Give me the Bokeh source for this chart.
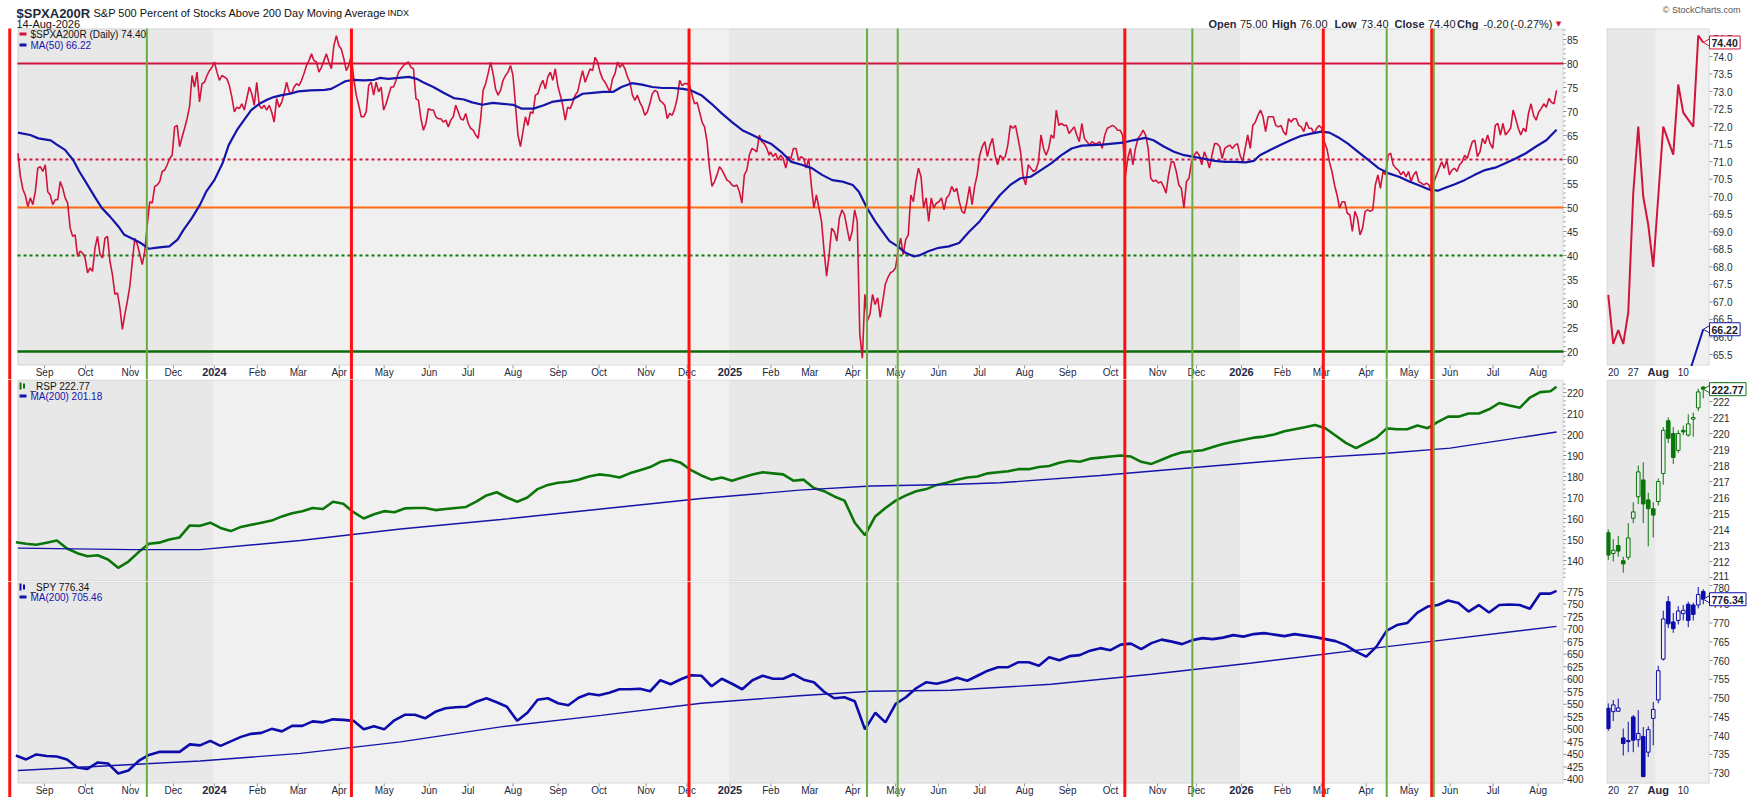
import numpy as np
import pandas as pd
from bokeh.plotting import figure
from bokeh.models import BoxAnnotation, Range1d
from bokeh.layouts import column, row
from bokeh.embed import file_html
from bokeh.resources import INLINE
from bokeh.core.properties import value

# ------------------------------------------------------------------ data
HOLIDAYS = ["2023-09-04", "2023-11-23", "2023-12-25",
            "2024-01-01", "2024-01-15", "2024-02-19", "2024-03-29", "2024-05-27",
            "2024-06-19", "2024-07-04", "2024-09-02", "2024-11-28", "2024-12-25",
            "2025-01-01", "2025-01-09", "2025-01-20", "2025-02-17", "2025-04-18",
            "2025-05-26", "2025-06-19", "2025-07-04", "2025-09-01", "2025-11-27",
            "2025-12-25", "2026-01-01", "2026-01-19", "2026-02-16", "2026-04-03",
            "2026-05-25", "2026-06-19", "2026-07-03"]

MONTH_LABELS = ["Sep", "Oct", "Nov", "Dec", "2024", "Feb", "Mar", "Apr", "May", "Jun", "Jul", "Aug",
                "Sep", "Oct", "Nov", "Dec", "2025", "Feb", "Mar", "Apr", "May", "Jun", "Jul", "Aug",
                "Sep", "Oct", "Nov", "Dec", "2026", "Feb", "Mar", "Apr", "May", "Jun", "Jul", "Aug"]
MONTH_STARTS = pd.date_range("2023-09-01", periods=len(MONTH_LABELS), freq="MS")
INSET_TICK_DATES = ["2026-07-20", "2026-07-27", "2026-08-03", "2026-08-10"]
INSET_TICK_LABELS = ["20", "27", "Aug", "10"]

RED_LINES = ["2023-08-09", "2024-04-09", "2024-12-03", "2025-10-10", "2026-03-03", "2026-05-18"]
GREEN_LINES = ["2023-11-13", "2025-04-10", "2025-05-02", "2025-11-26", "2026-04-16", "2026-05-19"]

HLINE_LEVELS = [80, 60, 50, 40, 20]

SPXA_TICKS = list(range(20, 90, 5))
SPXA_INSET_TICKS = [65.5 + 0.5 * i for i in range(19)]
RSP_TICKS = list(range(140, 230, 10))
RSP_INSET_TICKS = list(range(211, 224))
SPY_TICKS = list(range(400, 800, 25))
SPY_INSET_TICKS = list(range(730, 785, 5))

# $SPXA200R readings, evenly spaced across two trading-day spans
spxa_span_a = (0.98, 368.2)
spxa_a = [61.3, 56.5, 53.8, 52.5, 50.2, 52.0, 50.6, 53.3, 58.2, 58.5, 57.5, 58.9, 53.3, 52.6, 50.6, 51.6,
          51.6, 55.4, 54.0, 52.0, 50.9, 45.7, 44.0, 44.3, 39.8, 40.9, 40.5, 39.5, 36.4, 37.4, 36.7, 41.6,
          44.0, 40.2, 39.5, 43.6, 44.0, 38.8, 36.0, 31.9, 32.2, 29.1, 24.6, 27.8, 30.5, 33.6, 38.8, 43.6,
          42.3, 40.2, 38.1, 40.9, 46.4, 51.2, 50.9, 54.4, 54.7, 55.4, 57.5, 57.8, 58.9, 60.2, 60.9, 66.8,
          67.1, 62.7, 64.7, 66.5, 68.5, 71.0, 77.5, 75.1, 78.2, 72.0, 75.8, 76.1, 77.5, 78.5, 79.2, 80.3,
          78.2, 76.5, 77.5, 77.2, 76.8, 75.4, 73.0, 69.9, 70.9, 70.6, 71.6, 70.3, 72.7, 75.1, 73.7, 71.3,
          76.1, 71.3, 70.6, 71.3, 70.3, 71.3, 69.9, 67.8, 72.7, 70.9, 71.9, 73.7, 76.1, 74.1, 73.7, 75.1,
          75.8, 75.4, 76.5, 77.9, 79.6, 80.6, 82.0, 80.6, 80.3, 78.2, 79.2, 80.6, 82.0, 80.3, 78.9, 83.7,
          85.8, 83.7, 83.0, 81.0, 78.5, 79.6, 81.7, 76.8, 73.4, 71.3, 68.9, 68.9, 69.9, 75.4, 76.1, 73.4,
          76.1, 74.1, 75.1, 70.3, 71.6, 73.4, 75.1, 75.1, 76.5, 78.2, 78.9, 79.6, 80.0, 80.3, 79.2, 78.9,
          72.7, 72.3, 68.5, 66.1, 67.5, 70.6, 70.3, 70.3, 68.9, 68.5, 68.5, 67.8, 68.2, 66.8, 68.2, 68.9,
          71.3, 69.9, 68.5, 68.2, 69.6, 67.5, 66.5, 66.1, 65.1, 64.4, 68.5, 74.4, 75.8, 77.9, 80.3, 77.9,
          74.7, 73.4, 74.4, 76.5, 77.5, 78.2, 79.6, 77.5, 71.3, 65.1, 62.7, 65.8, 68.9, 67.1, 69.9, 69.6,
          73.4, 73.7, 75.4, 76.5, 74.7, 77.2, 78.2, 76.5, 78.9, 75.4, 73.4, 71.3, 68.2, 70.9, 70.6, 71.9,
          73.4, 74.1, 76.5, 78.5, 76.1, 77.5, 78.9, 78.5, 81.3, 80.3, 78.2, 76.8, 76.1, 75.1, 74.1, 76.8,
          77.9, 80.3, 79.2, 79.9, 78.9, 77.2, 76.1, 73.4, 72.3, 73.4, 71.9, 70.9, 69.2, 69.9, 71.6, 73.7,
          74.4, 74.1, 72.3, 71.9, 71.3, 68.5, 69.6, 69.2, 70.6, 72.7, 76.5, 75.4, 75.8, 75.8, 75.4, 73.4,
          71.6, 71.9, 69.9, 67.8, 66.8, 63.7, 58.2, 54.4, 55.4, 56.8, 58.5, 57.8, 56.8, 55.7, 55.4, 54.7,
          54.4, 54.7, 53.3, 50.9, 56.8, 57.8, 60.9, 62.3, 62.0, 61.6, 65.1, 63.7, 63.3, 62.3, 60.9]
spxa_span_b = (368.8, 753.0)
spxa_b = [61.6, 60.6, 61.3, 59.9, 60.9, 60.2, 58.2, 60.6, 60.2, 62.3, 62.3, 59.9, 60.6, 60.2, 58.2, 60.2,
          54.7, 49.9, 52.6, 49.9, 47.1, 41.0, 35.7, 40.2, 45.7, 45.0, 43.0, 47.8, 49.5, 48.5, 45.7, 43.0,
          45.0, 49.5, 47.1, 23.6, 18.6, 31.9, 26.4, 27.8, 31.9, 29.8, 31.2, 27.1, 30.5, 34.0, 35.4, 36.4,
          36.7, 37.4, 40.9, 43.6, 40.2, 43.3, 44.3, 52.6, 51.2, 55.4, 58.2, 56.4, 49.9, 52.0, 47.1, 52.0,
          49.9, 50.9, 51.2, 52.0, 49.5, 52.0, 52.6, 54.4, 53.3, 54.0, 51.2, 49.2, 48.8, 51.2, 54.4, 50.6,
          54.4, 56.8, 60.9, 62.7, 63.7, 60.6, 63.0, 64.4, 60.9, 58.9, 60.9, 60.2, 60.6, 63.0, 67.1, 66.5,
          67.1, 64.4, 61.6, 56.4, 54.7, 58.9, 58.2, 57.5, 57.8, 59.5, 65.1, 62.3, 60.9, 62.3, 65.1, 64.4,
          70.3, 67.1, 67.5, 67.1, 67.1, 65.4, 66.1, 66.8, 65.1, 63.7, 67.5, 64.4, 63.7, 63.0, 63.7, 63.3,
          63.3, 63.7, 62.3, 65.1, 66.5, 66.8, 67.1, 66.8, 66.1, 66.1, 65.1, 56.4, 60.2, 62.3, 58.9, 62.3,
          64.4, 65.1, 66.1, 65.1, 62.3, 56.1, 55.4, 55.7, 55.1, 55.4, 54.4, 53.0, 56.8, 59.5, 59.5, 57.5,
          54.7, 54.0, 49.9, 55.4, 56.1, 59.5, 60.9, 61.6, 60.9, 58.9, 61.6, 60.2, 58.2, 60.9, 63.3, 63.3,
          62.7, 60.2, 62.3, 62.7, 63.0, 62.3, 63.0, 63.3, 60.9, 59.5, 62.3, 65.1, 62.3, 67.1, 67.8, 69.2,
          70.3, 68.9, 65.8, 68.9, 68.9, 68.9, 67.1, 66.8, 67.1, 65.8, 65.1, 68.5, 67.8, 68.5, 68.5, 67.1,
          66.8, 65.8, 67.8, 66.5, 66.5, 65.4, 66.5, 67.1, 66.5, 63.7, 62.3, 59.5, 57.5, 54.7, 52.6, 49.9,
          51.2, 51.2, 48.8, 48.5, 45.0, 49.2, 47.8, 44.3, 45.7, 49.2, 49.5, 49.2, 49.5, 54.7, 56.8, 54.0,
          57.5, 56.8, 60.9, 61.3, 58.9, 58.2, 57.8, 56.8, 57.5, 56.4, 57.5, 55.4, 56.8, 57.5, 55.4, 55.1,
          54.7, 55.1, 54.7, 53.0, 55.4, 56.8, 58.2, 59.5, 58.2, 59.9, 56.8, 57.8, 58.2, 57.5, 58.9, 59.5,
          60.9, 60.2, 62.0, 63.7, 64.0, 60.6, 61.6, 64.4, 63.3, 65.1, 63.3, 62.3, 67.1, 67.5, 65.1, 67.5,
          65.1, 65.8, 66.5, 70.3, 68.5, 66.5, 65.1, 66.5, 65.8, 69.6, 71.6, 69.2, 68.2, 69.9, 70.6, 71.6,
          70.9, 72.7, 71.9, 71.6, 74.4]

ma50_day = [1, 7, 11, 17, 20, 24, 28, 31, 35, 39, 42, 46, 50, 53, 57, 61, 64, 65, 70, 75,
            79, 82, 86, 90, 93, 97, 101, 104, 108, 112, 115, 119, 123, 126, 130, 134, 138, 144, 151, 154,
            158, 161, 165, 170, 175, 178, 182, 187, 192, 196, 199, 204, 209, 214, 219, 223, 228, 233, 238, 243,
            247, 253, 258, 262, 267, 272, 277, 282, 287, 292, 296, 301, 306, 311, 316, 321, 326, 330, 335, 340,
            345, 350, 355, 360, 365, 369, 374, 379, 384, 389, 394, 399, 404, 409, 412, 416, 420, 424, 427, 431,
            435, 439, 442, 446, 451, 456, 461, 466, 471, 476, 481, 486, 491, 496, 501, 506, 511, 516, 521, 526,
            531, 536, 541, 546, 552, 556, 561, 566, 571, 575, 580, 586, 591, 596, 601, 605, 608, 613, 618, 623,
            628, 633, 638, 642, 646, 651, 656, 661, 666, 671, 676, 681, 686, 691, 695, 698, 703, 708, 713, 718,
            723, 728, 733, 738, 743, 748, 753]
ma50_val = [65.6, 65.1, 64.4, 64.0, 63.1, 62.0, 59.9, 57.5, 54.7, 51.9, 49.9, 48.1, 46.1, 44.3, 43.5, 42.6, 41.7, 41.4, 41.7, 41.9,
            43.3, 45.4, 47.8, 50.6, 53.3, 55.7, 59.2, 63.0, 66.1, 68.5, 70.3, 71.6, 72.5, 73.0, 73.4, 73.7, 74.2, 74.4, 74.5, 74.7,
            75.6, 76.3, 76.6, 76.5, 76.6, 77.0, 76.8, 77.0, 77.2, 76.8, 76.1, 75.1, 73.9, 72.8, 72.5, 71.9, 71.4, 71.8, 71.6, 71.4,
            70.6, 70.6, 71.3, 72.0, 72.3, 72.5, 73.7, 73.9, 74.1, 74.1, 75.1, 75.9, 75.6, 75.1, 74.9, 74.9, 74.7, 74.4, 73.4, 71.6,
            69.6, 67.8, 66.1, 65.1, 64.0, 63.3, 61.6, 59.5, 58.9, 58.2, 56.8, 55.7, 55.4, 54.7, 53.3, 49.9, 47.1, 44.7, 43.0, 41.9,
            40.5, 39.8, 40.1, 40.9, 41.6, 41.9, 42.6, 45.0, 47.1, 49.9, 52.6, 54.7, 56.1, 56.4, 57.8, 59.2, 60.9, 62.3, 62.9, 63.0,
            63.1, 63.3, 63.5, 64.0, 64.5, 64.0, 62.7, 61.6, 60.9, 60.6, 60.2, 59.7, 59.5, 59.5, 59.4, 59.7, 60.9, 62.0, 63.0, 64.0,
            64.9, 65.4, 65.8, 65.6, 64.7, 63.3, 61.6, 59.9, 58.2, 57.1, 56.4, 55.4, 54.6, 53.7, 53.5, 54.0, 54.8, 55.7, 56.8, 57.8,
            58.3, 59.2, 60.2, 61.3, 62.7, 64.0, 66.22]

# last 20 sessions (Jul 20 - Aug 14, 2026)
spxa_inset = [67.2, 65.8, 66.2, 65.8, 66.7, 70.1, 72.0, 70.0, 69.2, 68.0,
              70.0, 72.0, 71.6, 71.2, 73.2, 72.4, 72.2, 72.0, 74.6, 74.4]

# _RSP weekly closes (every 5 sessions from 2023-08-14) and last close
rsp_week = [148.7, 148, 147.5, 148.5, 149.5, 145.7, 143.5, 142, 142.5, 140.5,
            136.5, 139.5, 144, 148, 148.5, 150, 151, 156.7, 156.5, 158,
            155.5, 154, 156, 157, 158, 159, 161, 162.5, 163.5, 165,
            164.5, 168, 167, 163, 160, 162, 163.5, 163, 164.8, 165,
            165, 164, 164.5, 165, 165.5, 168, 171, 172.5, 170, 168,
            170, 174, 176, 177, 177.5, 178.5, 180, 181, 180.5, 179.5,
            181.5, 183, 184.5, 187, 188, 186.5, 183, 180.5, 178.5, 179.5,
            178, 179.5, 181, 182, 181.5, 181, 178, 178.5, 174.5, 173,
            170.5, 168.5, 158, 152, 161, 165, 168.5, 171, 173, 174,
            176, 177, 178.5, 179.5, 180, 181.5, 182, 182.5, 183.5, 183.5,
            184.5, 185, 186.5, 187.5, 187, 188.5, 189, 189.5, 190, 189.5,
            187, 186, 188, 190, 191.5, 192, 192.5, 194, 195.5, 196.5,
            197.5, 198.5, 199, 200, 201.5, 202.5, 203.5, 204.5, 203, 199.5,
            196, 193.5, 196, 198.5, 202.9, 202.5, 202.5, 204.3, 203, 206,
            208.5, 208.5, 210, 210, 212, 215, 213.8, 212.7, 217.6, 220.2, 220.6]
rsp_last = 222.77
rsp_ma_day = [1, 57, 90, 139, 188, 237, 286, 335, 383, 418, 457, 481, 530, 579, 628, 667, 701, 753]
rsp_ma_val = [145.9, 145.2, 145.2, 149.5, 155, 159.5, 164.5, 169.5, 173.5, 175.5, 176.2, 177,
              180.5, 184.5, 188.5, 190.8, 193.5, 201.18]
rsp_o = [213.8, 212.5, 213.0, 212.05, 212.26, 214.7, 216.05, 217.1, 215.85, 215.3,
         215.75, 217.5, 220.8, 220.0, 218.95, 220.2, 219.9, 220.9, 221.6, 222.9]
rsp_h = [214.0, 213.4, 213.6, 212.3, 214.4, 215.7, 218.0, 218.2, 216.3, 215.7,
         217.2, 220.4, 221.0, 220.4, 220.2, 220.5, 221.2, 221.3, 222.8, 222.95]
rsp_l = [212.1, 212.0, 212.3, 211.3, 212.1, 214.4, 215.6, 214.4, 212.95, 213.5,
         215.5, 216.8, 219.4, 218.1, 218.8, 219.9, 219.8, 219.8, 221.4, 222.2]
rsp_c = [212.4, 212.7, 212.65, 211.85, 213.47, 215.1, 217.6, 215.6, 215.3, 214.9,
         217.0, 220.2, 219.7, 218.5, 220.0, 220.1, 220.6, 221.0, 222.6, 222.77]

# _SPY weekly closes and last close
spy_week = [448, 440, 450, 447, 446, 440, 424, 421, 434, 432,
            412, 418, 437, 449, 455, 455, 455, 470, 468, 477,
            467, 476, 485, 491, 493, 501, 496, 507, 507, 516,
            514, 520, 519, 517, 500, 506, 500, 518, 529, 529,
            522, 535, 542, 544, 545, 555, 562, 554, 545, 517,
            533, 559, 562, 552, 548, 563, 571, 568, 573, 580,
            580, 581, 576, 598, 590, 600, 608, 607, 586, 601,
            591, 580, 598, 607, 601, 601, 610, 599, 594, 575,
            562, 564, 556, 500, 533, 514, 551, 564, 582, 594,
            591, 596, 603, 597, 607, 617, 624, 624, 634, 634,
            627, 644, 638, 646, 648, 657, 662, 658, 669, 671,
            660, 672, 679, 675, 670, 678, 682, 680, 683, 688,
            685, 690, 692, 689, 686, 690, 687, 684, 680, 676,
            668, 655, 645, 665, 697, 708, 712, 733, 745, 748,
            757, 752, 735, 748, 733, 748, 749, 748.2, 740.6, 771.1, 770.7]
spy_last = 776.34
spy_ma_day = [1, 57, 90, 139, 188, 237, 286, 335, 383, 418, 457, 506, 555, 603, 667, 691, 753]
spy_ma_val = [418, 430, 437, 452, 475, 505, 528, 552, 567, 576, 578, 590, 610, 632, 663.6, 675, 705.46]
spy_o = [747.3, 746.4, 746.5, 739.4, 738.7, 745.0, 738.9, 739.8, 735.6, 744.6,
         749.5, 760.4, 775.7, 770.3, 770.7, 772.5, 775.0, 774.8, 774.8, 778.4]
spy_h = [748.6, 749.5, 749.9, 741.9, 743.7, 745.5, 746.8, 742.3, 742.5, 749.0,
         758.6, 773.3, 777.2, 772.7, 774.5, 774.8, 775.7, 775.4, 779.6, 779.0]
spy_l = [741.3, 743.9, 746.4, 734.7, 735.6, 735.6, 737.0, 728.9, 734.3, 737.4,
         748.6, 760.0, 768.7, 767.4, 769.6, 770.7, 768.9, 770.7, 773.9, 775.0]
spy_c = [741.9, 748.2, 747.4, 737.9, 738.4, 738.8, 740.6, 729.1, 741.6, 747.0,
         757.3, 771.1, 769.8, 768.5, 773.2, 773.4, 770.7, 772.3, 777.6, 776.34]

# ------------------------------------------------------------------ calendar
cal = pd.bdate_range("2023-08-01", "2026-08-31")
cal = cal[~cal.isin(pd.to_datetime(HOLIDAYS))]
ORIGIN = int(cal.searchsorted(pd.Timestamp("2023-08-14")))


def tday(d):
    return int(cal.searchsorted(pd.Timestamp(d))) - ORIGIN


LAST = tday("2026-08-14")

# ------------------------------------------------------------------ style / geometry
FONT = "Liberation Sans"
DARK = "#e8e8e8"
LIGHT = "#f0f0f0"
BORDER = "#9ea4aa"
TICKC = "#8a8f94"
RED = "#ff1010"
GREEN_V = "#6aab45"
CRIMSON = "#d2143c"
NAVY = "#1414a8"
RSP_GREEN = "#0a760a"
SPY_BLUE = "#0c0caa"
TXT = "#1e2840"
AXT = "#2b2b2b"


class Geo:
    """page-pixel geometry of one figure; xf / yf map page pixels to data."""

    def __init__(self, left, top, w, h, xf, xinv, yf, yinv):
        self.left, self.top, self.w, self.h = left, top, w, h
        self.xf, self.xinv, self.yf, self.yinv = xf, xinv, yf, yinv


def xlin(a0, px_per_day, d0):
    return (lambda a: d0 + (a - a0) / px_per_day,
            lambda d: a0 + (d - d0) * px_per_day)


def lin(v_ref, y_ref, px_per_unit):
    return (lambda y: v_ref - (y - y_ref) / px_per_unit,
            lambda v: y_ref + (v_ref - v) * px_per_unit)


XM = xlin(15.4, 2.046, 0.0)
XI = xlin(1606, 5.0, LAST - 19.35)
gM = Geo(0, 0, 1606, 379, *XM, *lin(85, 39, 4.8))
gMI = Geo(1606, 0, 144, 379, *XI, *lin(74, 56, 35.06))
gR = Geo(0, 379, 1606, 202, *XM, *lin(220, 392, 2.1))
gRI = Geo(1606, 379, 144, 202, *XI, *lin(222, 401, 16.0))
gS = Geo(0, 581, 1606, 216, *XM, *lin(775, 591, 0.5013))
gSI = Geo(1606, 581, 144, 216, *XI, *lin(780, 585, 3.754))

MAIN_L, MAIN_R = 17, 1563
INS_L, INS_R = 1606, 1709


def new_fig(g):
    p = figure(width=g.w, height=g.h,
               x_range=Range1d(g.xf(g.left), g.xf(g.left + g.w)),
               y_range=Range1d(g.yf(g.top + g.h), g.yf(g.top)),
               output_backend="svg", toolbar_location=None, tools="",
               x_axis_location=None, y_axis_location=None, min_border=0,
               min_border_left=0, min_border_right=0, min_border_top=0, min_border_bottom=0,
               background_fill_color="white", border_fill_color="white",
               outline_line_color=None)
    p.grid.visible = False
    return p


def panel(p, g, xl, xr, yt, yb, shades):
    lo, hi = g.xf(xl), g.xf(xr)
    for a, b, col in shades:
        p.add_layout(BoxAnnotation(left=max(a, lo), right=min(b, hi), bottom=g.yf(yb),
                                   top=g.yf(yt), fill_color=col, fill_alpha=1,
                                   line_alpha=0, level="underlay"))
    p.add_layout(BoxAnnotation(left=g.xf(xl + 0.5), right=g.xf(xr - 0.5), bottom=g.yf(yb - 0.5),
                               top=g.yf(yt + 0.5), fill_alpha=0, line_color=BORDER,
                               line_width=1, level="underlay"))


def right_axis(p, g, x_edge, ticks, labels, minor=None):
    n = len(ticks)
    p.segment(x0=[g.xf(x_edge)] * n, x1=[g.xf(x_edge + 3)] * n, y0=ticks, y1=ticks,
              line_color=TICKC, line_width=1)
    if minor:
        m = len(minor)
        p.segment(x0=[g.xf(x_edge)] * m, x1=[g.xf(x_edge + 2)] * m, y0=minor, y1=minor,
                  line_color=TICKC, line_width=1)
    # keep each label fully inside its own figure (labels at the very edge are nudged in)
    lo, hi = g.top + 6, g.top + g.h - 6
    ly = [g.yf(min(max(g.yinv(t), lo), hi)) for t in ticks]
    p.text(x=[g.xf(x_edge + 3.5)] * n, y=ly, text=labels, text_font=value(FONT),
           text_font_size="10px", text_color=AXT, text_align="left", text_baseline="middle")


def vlines(p, g, y_top, y_bot):
    for d in RED_LINES:
        p.segment(x0=[tday(d)], x1=[tday(d)], y0=[g.yf(y_top)], y1=[g.yf(y_bot)],
                  line_color=RED, line_width=3)
    for d in GREEN_LINES:
        p.segment(x0=[tday(d)], x1=[tday(d)], y0=[g.yf(y_top)], y1=[g.yf(y_bot)],
                  line_color=GREEN_V, line_width=2)


def ptext(p, g, ax, ay, text, size="10px", color="#111111", bold=False, align="left",
          baseline="middle", font=FONT):
    p.text(x=[g.xf(ax)], y=[g.yf(ay)], text=[text], text_font=value(font),
           text_font_size=size, text_color=color,
           text_font_style="bold" if bold else "normal",
           text_align=align, text_baseline=baseline)


def sbox(p, g, l, r, t, b, color):
    p.add_layout(BoxAnnotation(left=g.xf(l), right=g.xf(r), top=g.yf(t), bottom=g.yf(b),
                               fill_color=color, fill_alpha=1, line_alpha=0, level="overlay"))


def badge(p, g, y, text, color):
    ay = g.yinv(y)
    width = 5.9 * sum(ch.isdigit() for ch in text) + 3.0 + 4.0
    p.scatter(x=[g.xf(1707.5)], y=[y], marker="triangle", angle=np.pi / 2, size=8,
              fill_color="white", line_color=color, line_width=1)
    p.quad(left=[g.xf(1709)], right=[g.xf(1709 + width)], top=[g.yf(ay - 6.5)],
           bottom=[g.yf(ay + 6.5)], fill_color="white", line_color=color, line_width=1)
    ptext(p, g, 1711, ay + 0.5, text, size="10.5px", color="#1a1a2a", bold=True)


def month_strip(p, g, y_panel_bottom, y_mid):
    days = [tday(m) for m in MONTH_STARTS]
    mx = [d for d, s in zip(days, MONTH_LABELS) if not s.isdigit()]
    mt = [s for s in MONTH_LABELS if not s.isdigit()]
    yx = [d for d, s in zip(days, MONTH_LABELS) if s.isdigit()]
    yt = [s for s in MONTH_LABELS if s.isdigit()]
    n = len(days)
    p.segment(x0=days, x1=days, y0=[g.yf(y_panel_bottom)] * n, y1=[g.yf(y_panel_bottom + 3)] * n,
              line_color=TICKC, line_width=1)
    p.text(x=mx, y=[g.yf(y_mid)] * len(mx), text=mt, text_font=value(FONT), text_font_size="10px",
           text_color=TXT, text_align="center", text_baseline="middle")
    p.text(x=yx, y=[g.yf(y_mid)] * len(yx), text=yt, text_font=value(FONT), text_font_size="11px",
           text_font_style="bold", text_color=TXT, text_align="center", text_baseline="middle")


def inset_strip(p, g, y_mid):
    # labels are centred on their session, but never closer than 7px to the figure's left edge
    def xpos(d):
        return g.xf(max(g.xinv(tday(d)), g.left + 7))
    dx = [xpos(d) for d, t in zip(INSET_TICK_DATES, INSET_TICK_LABELS) if t.isdigit()]
    dt = [t for t in INSET_TICK_LABELS if t.isdigit()]
    mx = [xpos(d) for d, t in zip(INSET_TICK_DATES, INSET_TICK_LABELS) if not t.isdigit()]
    mt = [t for t in INSET_TICK_LABELS if not t.isdigit()]
    p.text(x=dx, y=[g.yf(y_mid)] * len(dx), text=dt, text_font=value(FONT), text_font_size="10px",
           text_color=TXT, text_align="center", text_baseline="middle")
    p.text(x=mx, y=[g.yf(y_mid)] * len(mx), text=mt, text_font=value(FONT), text_font_size="11px",
           text_font_style="bold", text_color=TXT, text_align="center", text_baseline="middle")


def candles(p, days, o, h, l, c, color):
    days = np.asarray(days, dtype=float)
    o, h, l, c = (np.asarray(v, dtype=float) for v in (o, h, l, c))
    top = np.maximum(o, c)
    bot = np.minimum(o, c)
    p.segment(x0=days, x1=days, y0=top, y1=h, line_color=color, line_width=1)
    p.segment(x0=days, x1=days, y0=l, y1=bot, line_color=color, line_width=1)
    up = c >= o
    p.vbar(x=days[up], bottom=bot[up], top=top[up], width=0.72, fill_alpha=0,
           line_color=color, line_width=1)
    p.vbar(x=days[~up], bottom=bot[~up], top=top[~up], width=0.72, fill_color=color,
           line_color=color, line_width=1)


year_b = [tday("2024-01-01") - 0.5, tday("2025-01-01") - 0.5, tday("2026-01-01") - 0.5]
SHADES_L = [(-1e9, year_b[0], DARK), (year_b[0], year_b[1], LIGHT),
            (year_b[1], year_b[2], DARK), (year_b[2], 1e9, LIGHT)]
aug_b = tday("2026-08-01") - 0.5
SHADES_R = [(-1e9, aug_b, DARK), (aug_b, 1e9, LIGHT)]
inset_days = np.arange(LAST - 19, LAST + 1)

# ------------------------------------------------------------------ main panel
pM = new_fig(gM)
panel(pM, gM, MAIN_L, MAIN_R, 28, 365, SHADES_L)
right_axis(pM, gM, MAIN_R, SPXA_TICKS, [str(t) for t in SPXA_TICKS], list(range(18, 88)))
hstyles = [(CRIMSON, "solid", 2.2), (CRIMSON, "3 3", 2.2), ("#ff6a13", "solid", 2.2),
           ("#0a7a0a", "3 3", 2.2), ("#0b6b0b", "solid", 2.6)]
for lvl, (col, dash, lw) in zip(HLINE_LEVELS, hstyles):
    pM.segment(x0=[gM.xf(MAIN_L)], x1=[gM.xf(MAIN_R)], y0=[lvl], y1=[lvl], line_color=col,
               line_dash=dash, line_width=lw)
spxa_days = np.concatenate([np.linspace(*spxa_span_a, len(spxa_a)),
                            np.linspace(*spxa_span_b, len(spxa_b))])
pM.line(spxa_days, spxa_a + spxa_b, line_color=CRIMSON, line_width=1.6)
pM.line(ma50_day, ma50_val, line_color=NAVY, line_width=2.2)
month_strip(pM, gM, 365, 371.5)
vlines(pM, gM, 28, 379)
# legend
sbox(pM, gM, 19, 26, 32, 35, CRIMSON)
ptext(pM, gM, 30, 33.5, "$SPXA200R (Daily) 74.40", color="#111111")
sbox(pM, gM, 19, 26, 43, 46, NAVY)
ptext(pM, gM, 30, 44.5, "MA(50) 66.22", color="#1414a8")
# header
ptext(pM, gM, 16, 13, "$SPXA200R", size="13px", color="#1f2a3c", bold=True, baseline="alphabetic")
ptext(pM, gM, 93, 12, "S&P 500 Percent of Stocks Above 200 Day Moving Average", size="11px",
      color="#111111", baseline="alphabetic")
ptext(pM, gM, 387, 12, "INDX", size="9px", color="#111111", baseline="alphabetic")
ptext(pM, gM, 16, 23, "14-Aug-2026", size="11px", color="#111111", baseline="alphabetic")
hdr = [("Open", 1236, True), ("75.00", 1267, False), ("High", 1296, True), ("76.00", 1327, False),
       ("Low", 1356, True), ("73.40", 1388, False), ("Close", 1424, True), ("74.40", 1455, False),
       ("Chg", 1478, True), ("-0.20", 1508, False), ("(-0.27%)", 1552, False)]
for t, xr_, b in hdr:
    ptext(pM, gM, xr_, 23, t, size="11px", color="#1e2840" if b else "#222222", bold=b,
          align="right", baseline="alphabetic")
ptext(pM, gM, 1558, 23, "\u25BE", size="11px", color=CRIMSON, align="center",
      baseline="alphabetic", font="DejaVu Sans")

# ------------------------------------------------------------------ main inset
pMI = new_fig(gMI)
panel(pMI, gMI, INS_L, INS_R, 28, 365, SHADES_R)
right_axis(pMI, gMI, INS_R, SPXA_INSET_TICKS, ["%.1f" % t for t in SPXA_INSET_TICKS])
pMI.line(inset_days, spxa_inset, line_color=CRIMSON, line_width=2)
pMI.line(ma50_day, ma50_val, line_color=NAVY, line_width=2)
# white label strip below the inset panel (hides the part of the MA below the panel)
pMI.quad(left=[gMI.xf(INS_L)], right=[gMI.xf(INS_R)], bottom=[gMI.yf(379)],
         top=[gMI.yf(365.5)], fill_color="white", line_alpha=0)
inset_strip(pMI, gMI, 371)
badge(pMI, gMI, 74.40, "74.40", CRIMSON)
badge(pMI, gMI, 66.22, "66.22", NAVY)
ptext(pMI, gMI, 1740, 9, "\u00A9 StockCharts.com", size="9px", color="#555555", align="right",
      baseline="alphabetic")

# ------------------------------------------------------------------ RSP panel
pR = new_fig(gR)
panel(pR, gR, MAIN_L, MAIN_R, 379, 581, SHADES_L)
right_axis(pR, gR, MAIN_R, RSP_TICKS, [str(t) for t in RSP_TICKS], list(range(132, 226, 2)))
rsp_days = list(np.arange(len(rsp_week)) * 5) + [LAST]
pR.line(rsp_days, rsp_week + [rsp_last], line_color=RSP_GREEN, line_width=2.6)
pR.line(rsp_ma_day, rsp_ma_val, line_color=NAVY, line_width=1.4)
vlines(pR, gR, 379, 581)
sbox(pR, gR, 19, 21, 382, 389, RSP_GREEN)
sbox(pR, gR, 22.5, 24.5, 383, 388, RSP_GREEN)
ptext(pR, gR, 30, 385.5, "_RSP 222.77", color="#111111")
sbox(pR, gR, 19, 26, 394, 397, NAVY)
ptext(pR, gR, 30, 395.5, "MA(200) 201.18", color="#1414a8")

pRI = new_fig(gRI)
panel(pRI, gRI, INS_L, INS_R, 379, 581, SHADES_R)
right_axis(pRI, gRI, INS_R, RSP_INSET_TICKS, [str(t) for t in RSP_INSET_TICKS])
candles(pRI, inset_days, rsp_o, rsp_h, rsp_l, rsp_c, RSP_GREEN)
badge(pRI, gRI, 222.77, "222.77", RSP_GREEN)

# ------------------------------------------------------------------ SPY panel
pS = new_fig(gS)
panel(pS, gS, MAIN_L, MAIN_R, 581, 783, SHADES_L)
right_axis(pS, gS, MAIN_R, SPY_TICKS, [str(t) for t in SPY_TICKS])
spy_days = list(np.arange(len(spy_week)) * 5) + [LAST]
pS.line(spy_days, spy_week + [spy_last], line_color=SPY_BLUE, line_width=2.6)
pS.line(spy_ma_day, spy_ma_val, line_color=NAVY, line_width=1.4)
month_strip(pS, gS, 783, 789.5)
vlines(pS, gS, 581, 797)
sbox(pS, gS, 19, 21, 583, 590, SPY_BLUE)
sbox(pS, gS, 22.5, 24.5, 584, 589, SPY_BLUE)
ptext(pS, gS, 30, 586.5, "_SPY 776.34", color="#111111")
sbox(pS, gS, 19, 26, 595, 598, NAVY)
ptext(pS, gS, 30, 596.5, "MA(200) 705.46", color="#1414a8")

pSI = new_fig(gSI)
panel(pSI, gSI, INS_L, INS_R, 581, 783, SHADES_R)
right_axis(pSI, gSI, INS_R, SPY_INSET_TICKS, [str(t) for t in SPY_INSET_TICKS])
candles(pSI, inset_days, spy_o, spy_h, spy_l, spy_c, SPY_BLUE)
inset_strip(pSI, gSI, 789.5)
badge(pSI, gSI, 776.34, "776.34", SPY_BLUE)

layout = column(row(pM, pMI), row(pR, pRI), row(pS, pSI))
open("out.html", "w").write(file_html(layout, INLINE, title="$SPXA200R"))
